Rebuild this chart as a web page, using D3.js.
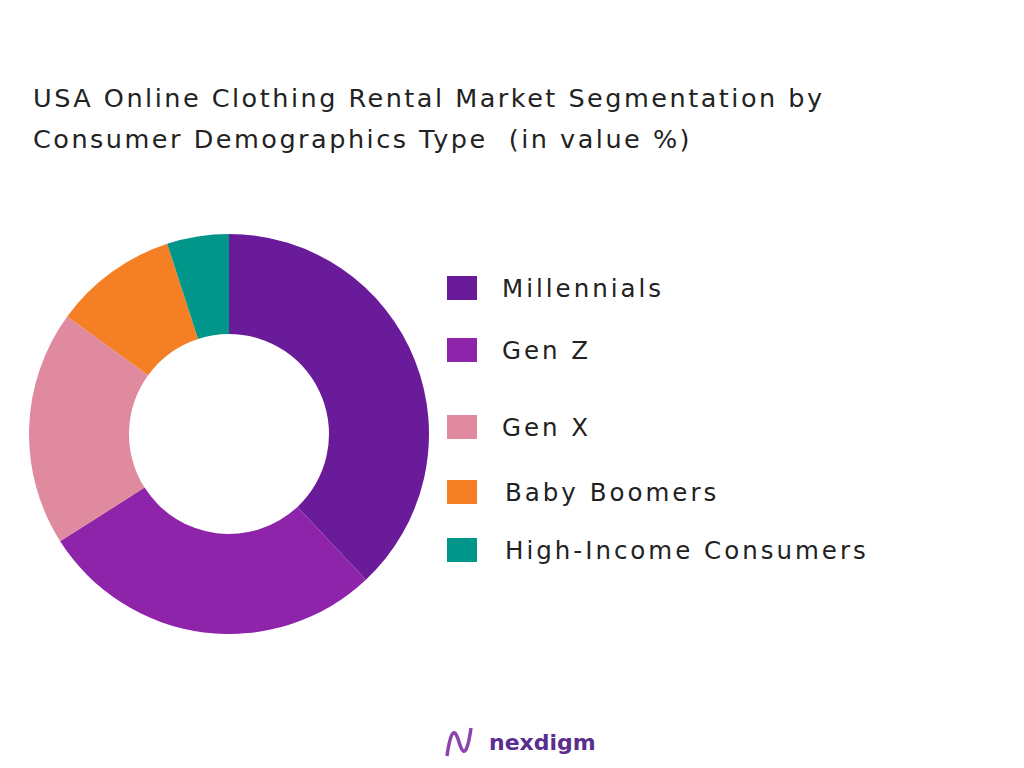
<!DOCTYPE html>
<html>
<head>
<meta charset="utf-8">
<script src="https://cdn.jsdelivr.net/npm/d3@7"></script>
<style>
  body { margin: 0; background: #fff; }
  text { font-family: "DejaVu Sans", sans-serif; white-space: pre; }
</style>
</head>
<body>
<svg id="chart" width="1024" height="768"></svg>
<script>
// Segment names and their share of value (%)
var segments = ['Millennials', 'Gen Z', 'Gen X', 'Baby Boomers', 'High-Income Consumers'];
var shares = [38, 28, 19, 10, 5];
var colours = ['#6a1b9a', '#8e24aa', '#e08aa0', '#f47f24', '#00968a'];
var legendY = [288, 350, 427, 492, 550];

var svg = d3.select('#chart');

// Title
var title = svg.append('text').attr('x', 33).attr('y', 107)
  .attr('font-size', 25.5).attr('letter-spacing', 2.5).attr('fill', '#222');
title.append('tspan').attr('x', 33).text('USA Online Clothing Rental Market Segmentation by');
title.append('tspan').attr('x', 33).attr('dy', 41).text('Consumer Demographics Type  (in value %)');

// Donut
var pie = d3.pie().sort(null).value(function(d) { return d; });
var arc = d3.arc().innerRadius(100).outerRadius(200);

var g = svg.append('g').attr('transform', 'translate(229,434)');
g.selectAll('path')
  .data(pie(shares))
  .enter().append('path')
  .attr('d', arc)
  .attr('fill', function(d, i) { return colours[i]; });

// Legend
var legend = svg.selectAll('.legend')
  .data(segments)
  .enter().append('g')
  .attr('transform', function(d, i) { return 'translate(447,' + legendY[i] + ')'; });
legend.append('rect')
  .attr('x', 0).attr('y', -12).attr('width', 30).attr('height', 24)
  .attr('fill', function(d, i) { return colours[i]; });
legend.append('text')
  .attr('x', function(d, i) { return i >= 3 ? 58 : 55; })
  .attr('dy', '0.35em')
  .attr('font-size', 24.5).attr('letter-spacing', 3).attr('fill', '#222')
  .text(function(d) { return d; });

// Logo
var logo = svg.append('g').attr('transform', 'translate(445,742)');
logo.append('path')
  .attr('d', 'M2,14 C6,-14 10,-14 14,0 C18,14 22,14 26,-14')
  .attr('fill', 'none').attr('stroke', '#8e44ad').attr('stroke-width', 3.5);
logo.append('text').attr('x', 44).attr('y', 8)
  .attr('font-size', 22).attr('font-weight', 700).attr('fill', '#5b2d8e')
  .text('nexdigm');
</script>
</body>
</html>
